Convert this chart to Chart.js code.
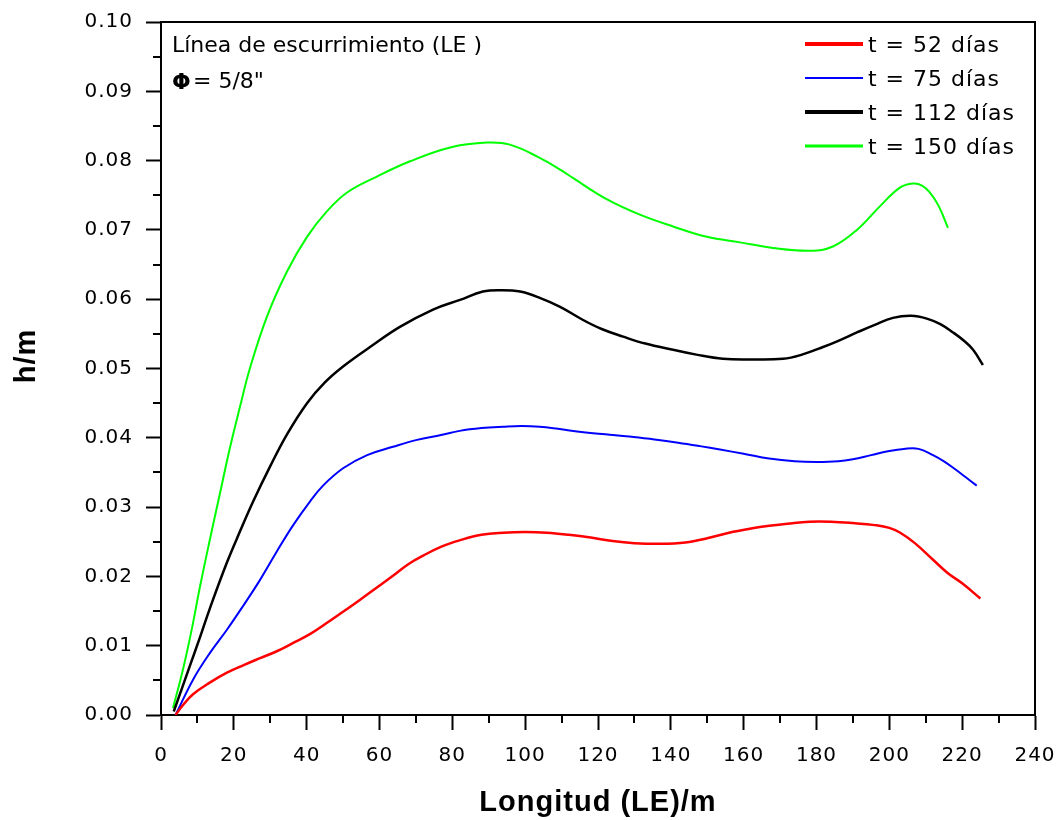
<!DOCTYPE html>
<html lang="es">
<head>
<meta charset="utf-8">
<title>Línea de escurrimiento (LE)</title>
<script src="https://cdn.jsdelivr.net/npm/chart.js@4.4.1/dist/chart.umd.min.js"></script>
<style>
  html, body { margin: 0; padding: 0; background: #fff; }
  #wrap { position: relative; width: 1058px; height: 820px; }
</style>
</head>
<body>
<div id="wrap"><canvas id="chart"></canvas></div>
<script>
// h/m along the runoff line, one series per exposure time
const seriesLabels = ['t = 52 días', 't = 75 días', 't = 112 días', 't = 150 días'];

const x52 = [4, 6, 8.8, 13.5, 18.1, 22.7, 27.2, 31.8, 36.3, 41, 45.6, 50, 54.6, 59, 63.7, 68, 72, 77, 82, 88, 94, 100, 106, 112, 118, 124, 130, 137, 144, 150, 156, 162, 167, 172, 178, 184, 190, 196, 200, 203, 207, 212, 216, 220, 225];
const h52 = [0.0000, 0.0014, 0.0030, 0.0047, 0.0061, 0.0072, 0.0082, 0.0092, 0.0104, 0.0117, 0.0133, 0.0149, 0.0166, 0.0183, 0.0201, 0.0218, 0.0230, 0.0243, 0.0252, 0.0260, 0.0263, 0.0264, 0.0263, 0.0260, 0.0256, 0.0251, 0.0248, 0.0247, 0.0249, 0.0255, 0.0263, 0.0269, 0.0273, 0.0276, 0.0279, 0.0279, 0.0277, 0.0274, 0.0270, 0.0263, 0.0248, 0.0224, 0.0205, 0.0190, 0.0168];

const x75 = [4, 8.8, 13.5, 18.1, 22.5, 27.2, 31.8, 36.3, 40.9, 44.5, 50, 56.6, 63.7, 70.3, 76.9, 82, 88, 94, 99, 104, 109, 116, 122, 128.6, 135, 142, 148, 153.5, 160, 167, 174, 180, 186, 190, 195, 200, 204, 208, 212, 215, 218, 221, 224];
const h75 = [0.0000, 0.0051, 0.0090, 0.0123, 0.0157, 0.0195, 0.0236, 0.0274, 0.0308, 0.0331, 0.0356, 0.0375, 0.0387, 0.0397, 0.0404, 0.0410, 0.0414, 0.0416, 0.0417, 0.0416, 0.0413, 0.0408, 0.0405, 0.0402, 0.0398, 0.0393, 0.0388, 0.0383, 0.0377, 0.0370, 0.0366, 0.0365, 0.0366, 0.0369, 0.0375, 0.0381, 0.0384, 0.0384, 0.0375, 0.0366, 0.0355, 0.0343, 0.0331];

const x112 = [3.5, 8, 10.7, 13.5, 18.1, 21.7, 25.3, 29.9, 34.6, 40.1, 45, 50, 57.4, 65.6, 74.7, 82.1, 88.4, 93.5, 98.6, 104, 109.6, 115.9, 121, 126.9, 133, 140.6, 147, 154.3, 162, 170.8, 176, 181.8, 186, 191.1, 196, 201, 206, 210.3, 214, 217.5, 220.5, 223, 225.7];
const h112 = [0.0005, 0.0072, 0.0112, 0.0155, 0.0220, 0.0265, 0.0308, 0.0358, 0.0405, 0.0450, 0.0480, 0.0503, 0.0531, 0.0560, 0.0585, 0.0599, 0.0611, 0.0613, 0.0611, 0.0602, 0.0589, 0.0570, 0.0557, 0.0546, 0.0536, 0.0527, 0.0520, 0.0514, 0.0513, 0.0514, 0.0520, 0.0531, 0.0540, 0.0552, 0.0563, 0.0573, 0.0576, 0.0572, 0.0564, 0.0552, 0.0540, 0.0527, 0.0505];

const x150 = [3.3, 6, 8.5, 10.7, 13.5, 16.2, 18.9, 21.7, 24.4, 29.1, 34.6, 40.1, 45.6, 51.1, 59.3, 68.4, 79.4, 89.5, 95.8, 104, 109.6, 113.1, 122.5, 131.5, 140.6, 149.9, 159, 168, 178.2, 184.5, 191.1, 197.4, 202.9, 206.5, 209, 211.1, 213.5, 216.1];
const h150 = [0.0010, 0.0065, 0.0125, 0.0185, 0.0255, 0.0320, 0.0385, 0.0445, 0.0500, 0.0575, 0.0640, 0.0690, 0.0727, 0.0754, 0.0777, 0.0799, 0.0819, 0.0826, 0.0823, 0.0804, 0.0787, 0.0775, 0.0744, 0.0722, 0.0705, 0.0690, 0.0682, 0.0674, 0.0670, 0.0676, 0.0700, 0.0734, 0.0761, 0.0767, 0.0764, 0.0754, 0.0735, 0.0703];

const xTicks = [0, 20, 40, 60, 80, 100, 120, 140, 160, 180, 200, 220, 240];
const xMinor = [10, 30, 50, 70, 90, 110, 130, 150, 170, 190, 210, 230];
const yTicks = [0.00, 0.01, 0.02, 0.03, 0.04, 0.05, 0.06, 0.07, 0.08, 0.09, 0.10];
const yMinor = [0.005, 0.015, 0.025, 0.035, 0.045, 0.055, 0.065, 0.075, 0.085, 0.095];

const COLORS = ['#ff0000', '#0000ff', '#000000', '#00ff00'];
const LINE_W = [2.5, 2, 2.5, 2];
const LEGEND_W = [4, 2, 4, 3];
const TICK_FONT = { family: 'DejaVu Sans', size: 20 };
const TITLE_FONT = { family: 'Liberation Sans, Arial, sans-serif', size: 29, weight: 'bold' };

function points(xs, ys) {
    return xs.map((x, i) => ({ x: x, y: ys[i] }));
}

const framePlugin = {
    id: 'frame',
    beforeDraw(chart) {
        const ctx = chart.ctx;
        ctx.save();
        ctx.fillStyle = '#fff';
        ctx.fillRect(0, 0, chart.width, chart.height);
        ctx.restore();
        ctx.letterSpacing = '1px';
    },
    afterDraw(chart) {
        const { ctx, chartArea: a } = chart;
        const xs = chart.scales.x, ys = chart.scales.y;
        ctx.save();
        ctx.letterSpacing = '0px';
        ctx.strokeStyle = '#000';
        ctx.lineWidth = 2;

        // top and right edges of the box
        ctx.beginPath();
        ctx.moveTo(a.left, a.top);
        ctx.lineTo(a.right, a.top);
        ctx.lineTo(a.right, a.bottom);
        ctx.stroke();

        // minor ticks
        ctx.beginPath();
        xMinor.forEach(v => {
            const px = Math.round(xs.getPixelForValue(v));
            ctx.moveTo(px, a.bottom);
            ctx.lineTo(px, a.bottom + 8);
        });
        yMinor.forEach(v => {
            const py = Math.round(ys.getPixelForValue(v));
            ctx.moveTo(a.left, py);
            ctx.lineTo(a.left - 8, py);
        });
        ctx.stroke();

        // y axis title, sits a little above the centre like the original
        ctx.save();
        ctx.translate(27, 356);
        ctx.rotate(-Math.PI / 2);
        ctx.letterSpacing = '1px';
        ctx.font = 'bold 29px "Liberation Sans", Arial, sans-serif';
        ctx.textAlign = 'center';
        ctx.textBaseline = 'middle';
        ctx.fillStyle = '#000';
        ctx.fillText('h/m', 0, 0);
        ctx.restore();

        // notes, top left
        ctx.fillStyle = '#000';
        ctx.textBaseline = 'alphabetic';
        ctx.textAlign = 'left';
        ctx.font = '22px "DejaVu Sans"';
        ctx.fillText('Línea de escurrimiento (LE )', a.left + 11, 52);
        ctx.font = 'bold 22px "DejaVu Sans"';
        ctx.fillText('Φ', a.left + 11, 89);
        ctx.font = '22px "DejaVu Sans"';
        ctx.fillText('= 5/8"', a.left + 32, 88);

        // legend, top right
        ctx.letterSpacing = '1px';
        ctx.font = '22px "DejaVu Sans"';
        chart.data.datasets.forEach((ds, i) => {
            const base = 52 + i * 34;
            ctx.strokeStyle = ds.borderColor;
            ctx.lineWidth = LEGEND_W[i];
            ctx.beginPath();
            ctx.moveTo(805, base - 8);
            ctx.lineTo(863, base - 8);
            ctx.stroke();
            ctx.fillStyle = '#000';
            ctx.fillText(ds.label, 868, base);
        });
        ctx.restore();
    }
};

const allX = [x52, x75, x112, x150];
const allH = [h52, h75, h112, h150];

new Chart(document.getElementById('chart'), {
    type: 'scatter',
    data: {
        datasets: seriesLabels.map((label, i) => ({
            label: label,
            data: points(allX[i], allH[i]),
            showLine: true,
            borderColor: COLORS[i],
            backgroundColor: COLORS[i],
            borderWidth: LINE_W[i],
            pointRadius: 0,
            tension: 0.4,
        })),
    },
    options: {
        responsive: true,
        maintainAspectRatio: false,
        animation: false,
        layout: { padding: { left: 0, top: 22, right: 23, bottom: 0 } },
        plugins: {
            legend: { display: false },
            tooltip: { enabled: false },
        },
        scales: {
            x: {
                type: 'linear',
                min: 0,
                max: 240,
                afterBuildTicks: s => { s.ticks = xTicks.map(v => ({ value: v })); },
                afterFit: s => { s.height = 105; s.paddingLeft = 0; s.paddingRight = 0; },
                ticks: {
                    color: '#000',
                    font: TICK_FONT,
                    padding: 14,
                    autoSkip: false,
                    maxRotation: 0,
                    callback: v => String(v),
                },
                grid: { drawOnChartArea: false, tickLength: 15, tickWidth: 2, tickColor: '#000' },
                border: { display: true, color: '#000', width: 2 },
                title: {
                    display: true,
                    text: 'Longitud (LE)/m',
                    color: '#000',
                    font: TITLE_FONT,
                    padding: { top: 0, bottom: 0 },
                },
            },
            y: {
                type: 'linear',
                min: 0,
                max: 0.1,
                afterBuildTicks: s => { s.ticks = yTicks.map(v => ({ value: v })); },
                afterFit: s => { s.width = 161; s.paddingTop = 0; s.paddingBottom = 0; },
                ticks: {
                    color: '#000',
                    font: TICK_FONT,
                    padding: 13,
                    autoSkip: false,
                    callback: v => Number(v).toFixed(2),
                },
                grid: { drawOnChartArea: false, tickLength: 15, tickWidth: 2, tickColor: '#000' },
                border: { display: true, color: '#000', width: 2 },
            },
        },
    },
    plugins: [framePlugin],
});
</script>
</body>
</html>
